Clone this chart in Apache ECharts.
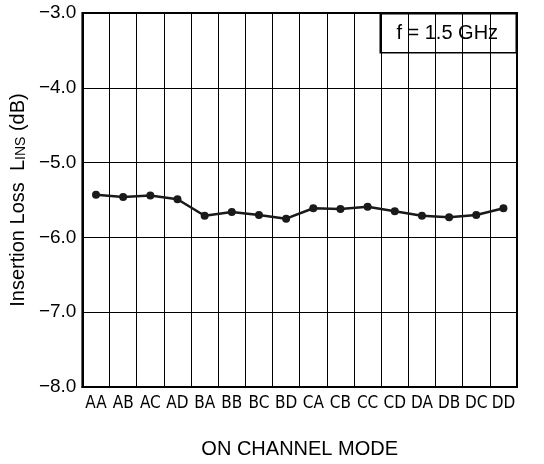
<!DOCTYPE html>
<html>
<head>
<meta charset="utf-8">
<script src="https://cdn.jsdelivr.net/npm/echarts@6/dist/echarts.min.js"></script>
<style>html,body{margin:0;padding:0;background:#fff}#c{width:544px;height:464px}</style>
</head>
<body>
<div id="c"></div>
<script>
var categories = ['AA','AB','AC','AD','BA','BB','BC','BD','CA','CB','CC','CD','DA','DB','DC','DD'];
var insertionLoss = [-5.43,-5.46,-5.44,-5.49,-5.71,-5.66,-5.70,-5.75,-5.61,-5.62,-5.59,-5.65,-5.71,-5.73,-5.70,-5.61];
var yMin = -8, yMax = -3, yStep = 1;
var annotation = 'f = 1.5 GHz';
var xTitle = 'ON CHANNEL MODE';

var chart = echarts.init(document.getElementById('c'));
chart.setOption({
  animation: false,
  backgroundColor: '#fff',
  grid: {left: 82, right: 27, top: 13, bottom: 75, show: true, borderColor: '#000', borderWidth: 2, containLabel: false},
  xAxis: {
    type: 'category',
    data: categories,
    boundaryGap: true,
    name: xTitle,
    nameLocation: 'middle',
    nameGap: 52,
    nameTextStyle: {fontFamily: 'Liberation Sans, Arial, sans-serif', fontSize: 20, color: '#000'},
    axisLine: {show: true, lineStyle: {color: '#000', width: 2}},
    axisTick: {show: false},
    axisLabel: {interval: 0, margin: 8, fontFamily: '"DejaVu Sans Condensed", "Liberation Sans Narrow", sans-serif', fontSize: 17, color: '#000'},
    splitLine: {show: true, interval: 0, lineStyle: {color: '#000', width: 1}}
  },
  yAxis: {
    type: 'value',
    min: yMin, max: yMax, interval: yStep,
    name: 'Insertion Loss  L{s|INS} (dB)',
    nameLocation: 'middle',
    nameGap: 52,
    nameTextStyle: {fontFamily: 'Liberation Sans, Arial, sans-serif', fontSize: 20, color: '#000',
      rich: {s: {fontFamily: 'Liberation Sans, Arial, sans-serif', fontSize: 14, color: '#000', verticalAlign: 'bottom'}}},
    axisLine: {show: true, lineStyle: {color: '#000', width: 2}},
    axisTick: {show: false},
    axisLabel: {margin: 6, fontFamily: 'Liberation Sans, Arial, sans-serif', fontSize: 19, color: '#000',
      formatter: function (v) { return v.toFixed(1).replace('-', '\u2212'); }},
    splitLine: {show: true, lineStyle: {color: '#000', width: 1}}
  },
  series: [{
    type: 'line',
    data: insertionLoss,
    symbol: 'circle',
    symbolSize: 8,
    lineStyle: {color: '#1a1a1a', width: 2.5},
    itemStyle: {color: '#1a1a1a'},
    z: 5
  }],
  graphic: [{
    type: 'group',
    right: 27, top: 13, z: 100,
    children: [
      {type: 'rect', shape: {x: 0, y: 0, width: 136, height: 39}, style: {fill: '#fff', stroke: '#000', lineWidth: 1.5}},
      {type: 'text', x: 67, y: 20, style: {text: annotation, fontFamily: 'Liberation Sans, Arial, sans-serif', fontSize: 20, fill: '#000', align: 'center', verticalAlign: 'middle'}}
    ]
  }]
});
</script>
</body>
</html>
